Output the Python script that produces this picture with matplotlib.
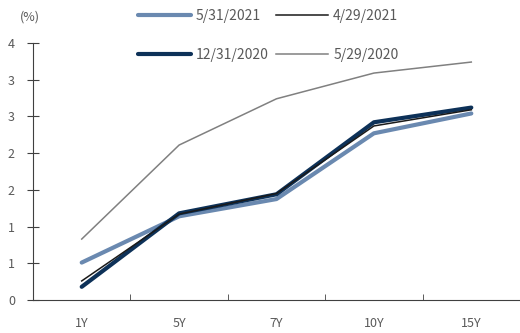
import matplotlib.pyplot as plt
import numpy as np

plt.rcParams['font.family'] = ['Noto Sans CJK SC', 'DejaVu Sans']

tenors = ["1Y", "5Y", "7Y", "10Y", "15Y"]
may31_2021 = [0.51, 1.14, 1.375, 2.27, 2.54]
apr29_2021 = [0.26, 1.17, 1.45, 2.37, 2.59]
dec31_2020 = [0.18, 1.18, 1.44, 2.42, 2.62]
may29_2020 = [0.83, 2.11, 2.74, 3.09, 3.24]

yticks = [0, 0.5, 1, 1.5, 2, 2.5, 3, 3.5]
ytick_labels = ["0", "1", "1", "2", "2", "3", "3", "4"]

txt = "#595959"
fig = plt.figure(figsize=(5.2, 3.33), dpi=100)
ax = fig.add_axes([0.0635, 0.099, 0.9365, 0.772])

x = np.arange(len(tenors))
l1, = ax.plot(x, may31_2021, color="#6A89B0", lw=3.0, label="5/31/2021", solid_capstyle="round")
l3, = ax.plot(x, dec31_2020, color="#0D3158", lw=3.0, label="12/31/2020", solid_capstyle="round")
l2, = ax.plot(x, apr29_2021, color="#1a1a1a", lw=1.1, label="4/29/2021")
l4, = ax.plot(x, may29_2020, color="#808080", lw=1.1, label="5/29/2020")

ax.set_xlim(-0.5, 4.5)
ax.set_ylim(0, 3.5)
ax.set_yticks(yticks)
ax.set_yticklabels(ytick_labels)
ax.set_xticks(x)
ax.set_xticklabels(tenors)
ax.set_xticks(np.arange(0.5, 4.5, 1), minor=True)
ax.tick_params(axis="x", which="major", length=0, pad=12, labelsize=9, labelcolor=txt)
ax.tick_params(axis="x", which="minor", direction="in", length=4, color="#404040")
ax.tick_params(axis="y", direction="inout", length=8, labelsize=9, labelcolor=txt, color="#404040", pad=9)
for s in ["top", "right"]:
    ax.spines[s].set_visible(False)
ax.spines["left"].set_color("#404040")
ax.spines["bottom"].set_color("#404040")

fig.text(0.058, 0.95, "(%)", color=txt, fontsize=9, ha="center", va="center")

fig.legend(handles=[l1, l3, l2, l4], loc="center", bbox_to_anchor=(0.516, 0.893), ncol=2,
           frameon=False, fontsize=10, labelcolor=txt, handlelength=3.8,
           handletextpad=0.35, columnspacing=0.5, labelspacing=1.8)

fig.savefig("out.png", dpi=100)
